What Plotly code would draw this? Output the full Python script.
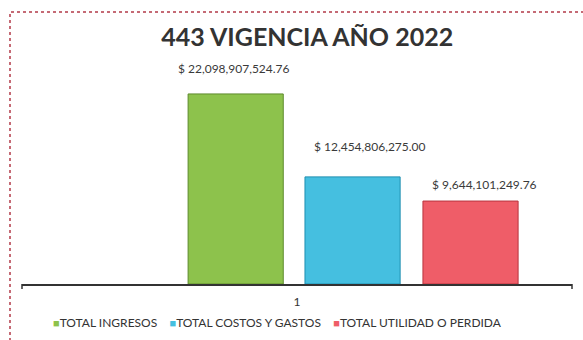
import plotly.graph_objects as go

# Chart data
categories = ["1"]
series_names = ["TOTAL INGRESOS", "TOTAL COSTOS Y GASTOS", "TOTAL UTILIDAD O PERDIDA"]
series_values = [22098907524.76, 12454806275.00, 9644101249.76]
title_text = "443 VIGENCIA AÑO 2022"

# Styling
colors = ["#8dc24c", "#45bfe0", "#ef5d68"]
edge_colors = ["#5d8a2c", "#1f8fb0", "#b8343e"]
bar_width = 0.173
bar_offsets = [-0.198, 0.0145, 0.229]
label_xshift = [-2, 17, 14]
label_yshift = [25, 30, 17]
FONT = "Lato, 'Open Sans', sans-serif"

fig = go.Figure()
for name, val, col, ecol, off in zip(series_names, series_values, colors, edge_colors, bar_offsets):
    fig.add_trace(go.Bar(
        name=name,
        x=[1],
        y=[val],
        width=bar_width,
        offset=off,
        marker=dict(color=col, line=dict(color=ecol, width=1)),
        hoverinfo="skip",
        showlegend=False,
    ))

# Value labels above the bars
for val, off, xs, ys in zip(series_values, bar_offsets, label_xshift, label_yshift):
    fig.add_annotation(
        x=1 + off + bar_width / 2, y=val, xref="x", yref="y",
        text=f"$ {val:,.2f}", showarrow=False,
        xanchor="center", yanchor="middle", xshift=xs, yshift=ys,
        font=dict(family=FONT, size=12, color="#3a3a3a"),
    )

W, H = 583, 340
ml, mr, mt, mb = 22, 11, 69, 56
pw, ph = W - ml - mr, H - mt - mb

def px_x(p):
    return (p - ml) / pw

def px_y(p):
    return (H - mb - p) / ph

# Compact legend row: small coloured squares followed by the series names
legend_text = "&nbsp;&nbsp;&nbsp;&nbsp;".join(
    f"<span style='color:{c};font-size:11px'>■</span>{n}"
    for n, c in zip(series_names, colors)
)
fig.add_annotation(
    x=px_x(277), y=px_y(322), xref="paper", yref="paper",
    text=legend_text, showarrow=False, xanchor="center", yanchor="middle",
    font=dict(family=FONT, size=12, color="#333333"),
)

shapes = [
    # dotted chart frame
    dict(type="rect", xref="paper", yref="paper",
         x0=px_x(10), x1=px_x(600), y0=px_y(360), y1=px_y(12),
         line=dict(color="#b23a48", width=1.5, dash="dot"), layer="below"),
    # end tick marks on the category axis
    dict(type="line", xref="paper", yref="paper", x0=0, x1=0,
         y0=0, y1=px_y(289), line=dict(color="#333333", width=1.5)),
    dict(type="line", xref="paper", yref="paper", x0=1, x1=1,
         y0=0, y1=px_y(289), line=dict(color="#333333", width=1.5)),
]

fig.update_layout(
    width=W, height=H,
    margin=dict(l=ml, r=mr, t=mt, b=mb),
    paper_bgcolor="white", plot_bgcolor="white",
    barmode="overlay",
    title=dict(text=f"<b>{title_text}</b>", x=0.527, xanchor="center",
               y=1 - 37 / H, yanchor="middle",
               font=dict(family=FONT, size=25, color="#333333")),
    xaxis=dict(range=[0.5, 1.5], tickmode="array", tickvals=[1], ticktext=categories,
               showline=True, linecolor="#333333", linewidth=1.5,
               showgrid=False, zeroline=False, ticks="", ticklabelstandoff=6,
               tickfont=dict(family=FONT, size=12, color="#333333")),
    yaxis=dict(range=[0, 25e9], visible=False, showgrid=False),
    shapes=shapes,
    showlegend=False,
)

fig.write_html("out.html")
